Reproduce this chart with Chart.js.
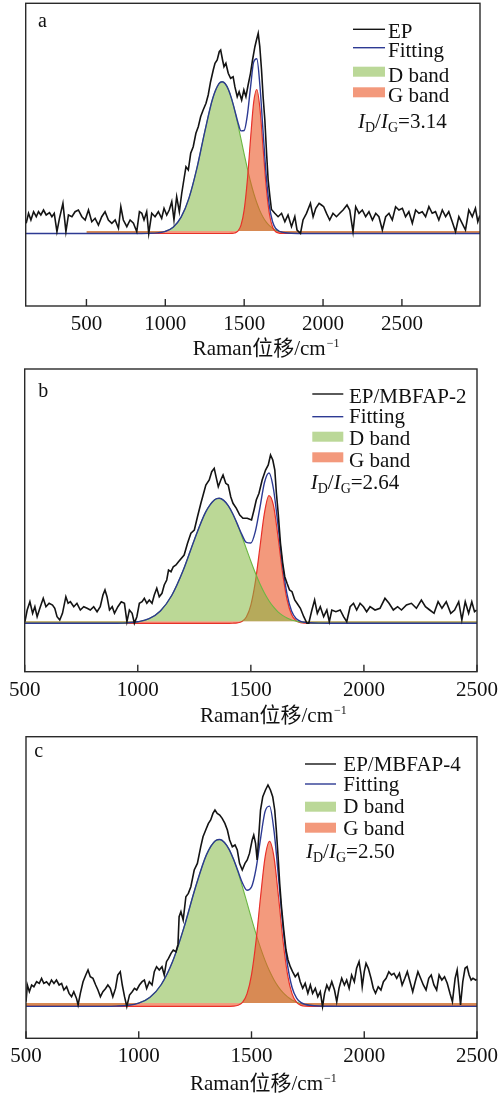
<!DOCTYPE html>
<html>
<head>
<meta charset="utf-8">
<title>Raman spectra</title>
<script src="https://cdn.jsdelivr.net/npm/chart.js@4.4.1/dist/chart.umd.min.js"></script>
<style>
  html, body { margin: 0; padding: 0; background: #fff; }
  body { position: relative; width: 504px; height: 1096px; overflow: hidden; }
  canvas { position: absolute; left: 0; }
</style>
</head>
<body>
<canvas id="panelA" width="504" height="368" style="top:0"></canvas>
<canvas id="panelB" width="504" height="368" style="top:368px"></canvas>
<canvas id="panelC" width="504" height="360" style="top:736px"></canvas>
<script>
// x tick labels (Raman shift, cm-1)
const xTicks = [500, 1000, 1500, 2000, 2500];

// ---- panel a : EP ----
const epXA = [
  118,133,148,165,182,196,211,228,245,266,
  281,296,313,329,351,370,386,408,428,449,
  471,492,513,534,555,576,597,618,639,661,
  682,703,718,734,756,777,798,819,836,851,
  865,882,895,914,935,956,977,992,1009,1025,
  1041,1055,1072,1089,1104,1114,1131,1146,1161,1177,
  1194,1209,1224,1240,1258,1272,1287,1304,1315,1329,
  1342,1351,1363,1372,1384,1399,1414,1430,1441,1456,
  1468,1484,1498,1511,1525,1540,1553,1568,1578,1589,
  1599,1610,1620,1631,1642,1652,1663,1673,1694,1715,
  1737,1758,1778,1800,1821,1835,1857,1873,1895,1920,
  1937,1954,1975,1990,2004,2022,2042,2063,2085,2106,
  2127,2152,2169,2190,2207,2228,2249,2270,2291,2313,
  2334,2354,2376,2397,2418,2439,2460,2481,2503,2523,
  2544,2566,2587,2608,2629,2650,2671,2692,2713,2734,
  2756,2777,2797,2819,2840,2861,2882,2903,2924,2946,
  2966,2981,2994
];
const epYA = [
  10.2,20.2,13.5,21.8,16.8,21.8,18.5,23.5,18.5,20.8,
  16.8,20.2,1.8,15.2,30.2,1.8,18.5,16.8,21.8,23.5,
  16.8,13.5,23.5,11.8,15.2,8.5,16.8,21.8,13.5,10.2,
  13.5,5.2,26.8,13.5,6.8,13.5,10.2,1.8,21.8,20.2,
  13.5,21.8,0.2,20.2,16.8,21.8,15.2,25.2,18.5,23.5,
  31.8,13.5,36.8,21.8,40,50,66.8,63.5,80.2,86.8,
  100.2,106.8,116.8,123.5,130.2,138.5,151.8,163.5,170.2,173.5,
  181.8,183.5,173.5,166.8,170.2,160.2,155.2,156.8,146.8,136.8,
  141.8,133.5,143.5,136.8,148.5,160.2,173.5,186.8,193.5,200.2,
  186.8,163.5,136.8,113.5,80.2,53.5,36.8,24,20.2,16.8,
  20.2,11.8,18.5,6.8,16.8,3.5,0.2,13.5,20.2,30.2,
  16.8,25.2,30.2,28.5,26.8,20.2,13.5,20.2,16.8,20.2,
  23.5,28.5,23.5,1.8,26.8,20.2,23.5,16.8,21.8,13.5,
  20.2,16.8,3.5,16.8,20.2,13.5,26.8,23.5,25.2,16.8,
  21.8,10.2,23.5,20.2,21.8,16.8,26.8,20.2,21.8,13.5,
  23.5,16.8,21.8,11.8,1.8,16.8,10.2,3.5,23.5,16.8,
  25.2,11.8,18
];
const bandXA = [
  500,850,900,950,1000,1050,1100,1150,1200,1250,
  1300,1340,1360,1380,1400,1420,1440,1460,1480,1500,
  1520,1540,1560,1580,1600,1620,1640,1660,1680,1700,
  1720,1740,1760,1800,1850,1900,2995
];
const dBandA = [
  0,0.03,0.14,0.59,2.09,6.34,16.3,35.4,65.1,101.7,
  134.8,149.8,151.8,149.8,144.0,134.8,122.9,109.1,94.3,79.4,
  65.1,52.0,40.5,30.7,22.6,16.3,11.4,7.8,5.2,3.3,
  2.1,1.3,0.8,0.25,0.05,0,0
];
const gBandA = [
  0,0,0,0,0,0,0,0,0,0,
  0,0,0,0,0.01,0.09,0.5,2.3,8.3,23.6,
  53.0,93.8,130.9,144.0,124.9,85.3,46.0,19.5,6.5,1.7,
  0.4,0.06,0,0,0,0,0
];
const fitXA = [
  115,500,850,900,950,1000,1050,1100,1150,1200,1250,
  1300,1340,1360,1380,1400,1420,1440,1460,1480,1500,
  1520,1540,1560,1580,1600,1620,1640,1660,1680,1700,
  1720,1740,1760,1800,1850,1900,2995
];
const fitA = [
  0,0,0.03,0.14,0.6,2.1,6.3,16.3,35.4,65.1,101.7,
  134.8,149.8,151.8,149.8,144.0,134.9,123.4,111.4,102.6,103.0,
  118.1,145.8,171.4,174.7,147.5,101.6,57.4,27.3,11.7,5.0,
  2.5,1.4,0.8,0.25,0.05,0,0
];

// ---- panel b : EP/MBFAP-2 ----
const epXB = [
  501,511,523,535,545,555,567,582,594,608,
  623,633,643,655,667,682,692,702,717,731,
  746,761,776,790,805,820,834,846,855,864,
  875,887,897,912,927,941,952,963,975,985,
  996,1007,1019,1029,1040,1051,1063,1073,1084,1095,
  1107,1117,1128,1136,1147,1157,1169,1180,1205,1220,
  1235,1250,1264,1279,1289,1301,1316,1327,1338,1346,
  1356,1367,1377,1389,1400,1411,1421,1436,1451,1465,
  1484,1503,1514,1524,1536,1550,1565,1577,1587,1597,
  1606,1613,1621,1631,1641,1650,1660,1671,1682,1694,
  1704,1719,1734,1748,1756,1770,1782,1794,1807,1822,
  1836,1847,1858,1876,1895,1910,1924,1939,1954,1968,
  1983,1998,2012,2027,2049,2071,2093,2111,2130,2149,
  2166,2188,2210,2232,2254,2272,2291,2310,2328,2345,
  2364,2384,2401,2419,2433,2448,2463,2477,2489,2498
];
const epYB = [
  1.6,13.3,21.6,10,16.6,6.6,15,25,16.6,20,
  18.3,15,6.6,3.3,10,26.6,20,21.6,16.6,20,
  13.3,16.6,15,13.3,16.6,11.6,16.6,28.3,33.3,26.6,
  13.3,16.6,10,16.6,21.6,20,1.6,13.3,10,0,
  6.6,20,21.6,25,20,23.3,20,28.3,35,26.6,
  30,38.3,43.3,53.3,51.6,56.6,58.3,61.6,68.3,80,
  90,93.3,106.6,120,128.3,138.3,143.3,151.6,155,146.6,
  136.6,143.3,148.3,140,138.3,126.6,120,115,108.3,105,
  105,103.3,113.3,123.3,130,143.3,153.3,158.3,168.3,163.3,
  153.3,130,110,80,60,46.6,40,33.3,31.6,23.3,
  20,15,6.6,0,0,13.3,23.3,10,16.6,6.6,
  13.3,1.6,13.3,11.6,13.3,6.6,1.6,16.6,20,13.3,
  20,16.6,11.6,16.6,13.3,15,25,20,13.3,16.6,
  13.3,18.3,20,15,23.3,16.6,13.3,10,21.6,15,
  21.6,10,13.3,21.6,3.3,21.6,10,21.6,11.6,13.3
];
const bandX = [
  500,850,900,950,1000,1050,1100,1150,1200,1250,
  1300,1340,1360,1380,1400,1420,1440,1460,1480,1500,
  1520,1540,1560,1580,1600,1620,1640,1660,1680,1700,
  1720,1740,1760,1800,1850,1900,2500
];
const dBandB = [
  0,0.02,0.09,0.39,1.46,4.6,12.4,27.8,52.5,83.4,
  111.2,123.6,125.0,122.9,117.6,109.4,99.0,87.1,74.6,62.1,
  50.3,39.6,30.3,22.6,16.4,11.5,7.9,5.3,3.4,2.2,
  1.3,0.79,0.46,0.14,0.03,0,0
];
const gBandB = [
  0,0,0,0,0,0,0,0,0,0,
  0,0,0,0,0.01,0.07,0.39,1.76,6.3,18.2,
  41.6,75.8,110.2,127.7,117.9,86.8,51.0,23.8,8.9,2.6,
  0.63,0.12,0.02,0,0,0,0
];
const fitB = [
  0,0.02,0.09,0.4,1.5,4.6,12.4,27.8,52.5,83.4,
  111.2,123.6,125.0,122.9,117.6,109.5,99.4,88.9,80.9,80.3,
  91.9,115.4,140.5,150.3,134.3,98.3,58.9,29.1,12.3,4.8,
  1.9,0.9,0.5,0.14,0.03,0,0
];

// ---- panel c : EP/MBFAP-4 ----
const epXC = [
  500,506,515,525,535,547,559,569,579,591,
  603,613,624,635,647,658,668,680,691,702,
  712,724,731,741,753,765,775,785,797,809,
  819,830,841,853,863,874,885,897,907,918,
  927,937,947,959,971,981,991,1003,1015,1025,
  1035,1047,1059,1069,1079,1091,1103,1113,1123,1132,
  1143,1153,1165,1174,1179,1187,1197,1209,1220,1231,
  1246,1260,1275,1285,1297,1309,1319,1329,1338,1348,
  1359,1370,1382,1393,1403,1415,1427,1437,1447,1459,
  1471,1481,1491,1503,1510,1518,1525,1532,1540,1550,
  1562,1573,1584,1594,1603,1610,1618,1625,1633,1643,
  1653,1662,1672,1682,1694,1706,1716,1727,1738,1750,
  1761,1771,1783,1794,1805,1815,1824,1834,1844,1856,
  1868,1878,1888,1900,1912,1922,1933,1944,1956,1966,
  1977,1986,1991,2000,2008,2018,2030,2040,2050,2062,
  2074,2085,2097,2109,2121,2132,2144,2156,2168,2180,
  2191,2203,2215,2226,2238,2250,2262,2274,2286,2297,
  2309,2321,2332,2344,2356,2368,2380,2391,2403,2412,
  2421,2427,2437,2447,2456,2465,2474,2482,2494,2500
];
const epYC = [
  4.7,21.4,14.7,21.4,19.7,24.7,23,28,23,24.7,
  21.4,26.4,23,26.4,21.4,23,16.4,19.7,13,9.7,
  14.7,8,1.4,13,24.7,31.4,36.4,29.7,28,21.4,
  16.4,9.7,14.7,18,21.4,18,9.7,18,31.4,34.7,
  21.4,9.7,0,11.4,14.7,18,16.4,21.4,24.7,26.4,
  18,24.7,21.4,34.7,39.7,36.4,39.7,31.4,44.7,48,
  53,56.4,54.7,62,89.7,94.7,86.4,109.7,113,119.7,
  136.4,143,159.7,169.7,176.4,183,186.4,193,196.4,193,
  191.4,188,183,176.4,166.4,159.7,161.4,156.4,143,136.4,
  143,146.4,153,166.4,171.4,163.1,146.4,169.7,196.4,209.7,
  216.4,221.4,216.4,209.7,196.4,176.4,149.7,123.1,99.7,76.4,
  56.4,46.4,39.7,34.7,29.7,33.1,24.7,18.1,23.1,13.1,
  21.4,13.1,18.1,9.7,14.7,0,13.1,21.4,16.4,24.7,
  16.4,4.7,18.1,28.1,21.4,26.4,18.1,31.4,24.7,38.1,
  44.7,31.4,19.7,34.7,43.1,38.1,28.1,18.1,13.1,19.7,
  16.4,24.7,28.1,34.7,31.4,33.1,28.1,33.1,21.4,28.1,
  34.7,24.7,14.7,24.7,34.7,28.1,21.4,16.4,28.1,31.4,
  21.4,16.4,31.4,26.4,29.7,23.1,13.1,4.7,28.1,36.4,
  16.4,1.4,24.7,38.1,39.7,31.4,26.4,28.1,26.4,27
];
const dBandC = [
  0,0.06,0.27,1.01,3.3,9.2,21.9,44.8,78.5,117.9,
  151.5,165.7,166.9,164.0,157.3,147.1,134.2,119.4,103.7,87.8,
  72.5,58.5,46.0,35.3,26.4,19.3,13.7,9.5,6.4,4.3,
  2.7,1.7,1.06,0.37,0.09,0.02,0
];
const gBandC = [
  0,0,0,0,0,0,0,0,0,0,
  0,0,0,0,0.04,0.2,1.1,4.0,12.5,31.6,
  65.1,109.1,148.8,165,148.8,109.1,65.1,31.6,12.5,4.0,
  1.05,0.2,0.04,0,0,0,0
];
const fitC = [
  0,0.06,0.27,1.0,3.3,9.2,21.9,44.8,78.5,117.9,
  151.5,165.7,166.9,164.0,157.3,147.3,135.3,123.4,116.2,119.4,
  137.6,167.6,194.8,200.3,175.2,128.4,78.8,41.1,18.9,8.3,
  3.75,1.9,1.1,0.37,0.09,0.02,0
];

// layout of the three stacked panels
const panels = [
  {
    canvas: 'panelA', tag: 'a', name: 'EP', ratio: '3.14',
    epX: epXA, epY: epYA, bandX: bandXA, dBand: dBandA, gBand: gBandA, fitX: fitXA, fit: fitA,
    xMin: 115, xMax: 2995, yMin: -72.5, yMax: 230.2, strip: 2.5, redOnTop: true,
    pad: { left: 25.7, right: 24, top: 3.3, bottom: 0 }, axisH: 62,
    tagPos: [38, 27],
    legend: { lineX: 353, lineW: 32, textX: 388, base: [37.7, 57.3, 81.7, 102], lineY: [29.3, 47.7], boxY: [66.7, 87.3], ratioX: 358, ratioY: 128 },
    titleX: 192.7, titleY: 355
  },
  {
    canvas: 'panelB', tag: 'b', name: 'EP/MBFAP-2', ratio: '2.64',
    epX: epXB, epY: epYB, bandX: bandX, dBand: dBandB, gBand: gBandB, fitX: bandX, fit: fitB,
    xMin: 500, xMax: 2500, yMin: -48.4, yMax: 254.3, strip: 2, redOnTop: false,
    pad: { left: 24.7, right: 25, top: 1, bottom: 0 }, axisH: 64.3,
    tagPos: [38.3, 28.7],
    legend: { lineX: 312.3, lineW: 31, textX: 349, base: [35.3, 55.3, 77, 98.5], lineY: [26, 48.7], boxY: [63.7, 84.3], ratioX: 310.7, ratioY: 121.3 },
    titleX: 200, titleY: 354
  },
  {
    canvas: 'panelC', tag: 'c', name: 'EP/MBFAP-4', ratio: '2.50',
    epX: epXC, epY: epYC, bandX: bandX, dBand: dBandC, gBand: gBandC, fitX: bandX, fit: fitC,
    xMin: 500, xMax: 2500, yMin: -31.9, yMax: 269.7, strip: 3.3, redOnTop: true,
    pad: { left: 26, right: 24.7, top: 0.7, bottom: 0 }, axisH: 57.7,
    tagPos: [34.3, 20.7],
    legend: { lineX: 305, lineW: 31, textX: 343.3, base: [34.7, 54.7, 77.3, 99], lineY: [28, 48], boxY: [65.7, 86.7], ratioX: 306, ratioY: 122.3 },
    titleX: 190, titleY: 354
  }
];

const SERIF = '"Liberation Serif", "Times New Roman", serif';
const TEXT = '#111';
const colors = {
  ep: '#141414',
  fit: '#2d3a93',
  dLine: '#6cb743',
  gLine: '#e8312a',
  dFill: '#bbd898',
  gFill: '#f3997c',
  dFillAlpha: 'rgba(131,184,64,0.55)',
  gFillAlpha: 'rgba(235,87,38,0.6)'
};

const pts = (xs, ys) => xs.map((x, i) => ({ x, y: ys[i] }));

function drawRatio(ctx, x, y, value) {
  const parts = [
    ['italic 21px ' + SERIF, 'I', 0],
    ['14px ' + SERIF, 'D', 4],
    ['21px ' + SERIF, '/', 0],
    ['italic 21px ' + SERIF, 'I', 0],
    ['14px ' + SERIF, 'G', 4],
    ['21px ' + SERIF, '=' + value, 0]
  ];
  parts.forEach(([font, t, dy]) => {
    ctx.font = font;
    ctx.fillText(t, x, y + dy);
    x += ctx.measureText(t).width;
  });
}

function overlay(p) {
  return {
    id: 'overlay',
    afterDatasetsDraw(chart) {
      const { ctx, chartArea: a, scales: { x } } = chart;
      ctx.save();
      ctx.strokeStyle = '#2a2a2a';
      ctx.lineWidth = 1.4;
      ctx.strokeRect(a.left, a.top, a.right - a.left, a.bottom - a.top);
      x.ticks.forEach(t => {
        const px = x.getPixelForValue(t.value);
        ctx.beginPath();
        ctx.moveTo(px, a.bottom);
        ctx.lineTo(px, a.bottom - 7);
        ctx.stroke();
      });
      ctx.restore();
    },
    afterDraw(chart) {
      const ctx = chart.ctx;
      const L = p.legend;
      ctx.save();
      ctx.fillStyle = TEXT;
      ctx.textBaseline = 'alphabetic';
      ctx.textAlign = 'left';

      // panel tag
      ctx.font = '20px ' + SERIF;
      ctx.fillText(p.tag, p.tagPos[0], p.tagPos[1]);

      // legend
      ctx.lineWidth = 1.4;
      [colors.ep, colors.fit].forEach((c, i) => {
        ctx.strokeStyle = c;
        ctx.beginPath();
        ctx.moveTo(L.lineX, L.lineY[i]);
        ctx.lineTo(L.lineX + L.lineW, L.lineY[i]);
        ctx.stroke();
      });
      [colors.dFill, colors.gFill].forEach((c, i) => {
        ctx.fillStyle = c;
        ctx.fillRect(L.lineX, L.boxY[i], L.lineW, 10);
      });
      ctx.fillStyle = TEXT;
      ctx.font = '21px ' + SERIF;
      [p.name, 'Fitting', 'D band', 'G band'].forEach((t, i) => ctx.fillText(t, L.textX, L.base[i]));
      drawRatio(ctx, L.ratioX, L.ratioY, p.ratio);

      // axis title
      ctx.font = '21px ' + SERIF + ', "Noto Sans CJK SC"';
      const main = 'Raman位移/cm';
      ctx.fillText(main, p.titleX, p.titleY);
      const w = ctx.measureText(main).width;
      ctx.font = '12px ' + SERIF;
      ctx.fillText('\u22121', p.titleX + w + 1, p.titleY - 8);
      ctx.restore();
    }
  };
}

function buildPanel(p) {
  const dOrder = p.redOnTop ? 3 : 2;
  const gOrder = p.redOnTop ? 2 : 3;
  new Chart(document.getElementById(p.canvas), {
    type: 'line',
    data: {
      datasets: [
        { label: p.name, data: pts(p.epX, p.epY), borderColor: colors.ep, borderWidth: 1.6, tension: 0, order: 0 },
        { label: 'Fitting', data: pts(p.fitX, p.fit), borderColor: colors.fit, borderWidth: 1.4, cubicInterpolationMode: 'monotone', order: 1 },
        {
          label: 'G band', data: pts(p.bandX, p.gBand), borderColor: colors.gLine, borderWidth: 1.2,
          backgroundColor: p.redOnTop ? colors.gFillAlpha : colors.gFill,
          fill: { value: p.strip }, cubicInterpolationMode: 'monotone', order: gOrder
        },
        {
          label: 'D band', data: pts(p.bandX, p.dBand), borderColor: colors.dLine, borderWidth: 1.1,
          backgroundColor: p.redOnTop ? colors.dFill : colors.dFillAlpha,
          fill: { value: p.strip }, cubicInterpolationMode: 'monotone', order: dOrder
        }
      ]
    },
    options: {
      responsive: false,
      animation: false,
      layout: { padding: p.pad },
      elements: { point: { radius: 0, hoverRadius: 0 } },
      plugins: { legend: { display: false }, tooltip: { enabled: false } },
      scales: {
        x: {
          type: 'linear',
          min: p.xMin,
          max: p.xMax,
          afterBuildTicks: s => { s.ticks = xTicks.map(v => ({ value: v })); },
          afterFit: s => { s.height = p.axisH; },
          grid: { display: false, drawTicks: false },
          border: { display: false },
          ticks: {
            autoSkip: false,
            maxRotation: 0,
            padding: 6,
            color: TEXT,
            font: { family: SERIF, size: 21 },
            callback: v => String(v)
          }
        },
        y: { display: false, min: p.yMin, max: p.yMax }
      }
    },
    plugins: [overlay(p)]
  });
}

panels.forEach(buildPanel);
</script>
</body>
</html>
